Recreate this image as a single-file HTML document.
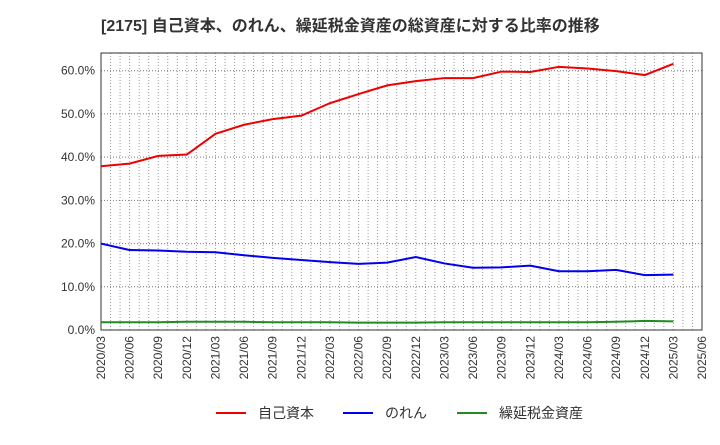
<!DOCTYPE html>
<html><head><meta charset="utf-8"><style>
body{margin:0;background:#fff;}
svg text{font-family:"Liberation Sans","Noto Sans CJK JP",sans-serif;}
</style></head><body>
<svg id="c" width="720" height="440" xmlns="http://www.w3.org/2000/svg">
<text x="101" y="31" font-size="16" font-weight="bold" fill="#333">[2175]  自己資本、のれん、繰延税金資産の総資産に対する比率の推移</text>
<g id="grid"></g>
<g id="axes"></g>
<g id="series"></g>
<g id="legend"></g>
</svg>
<script>
const categories=["2020/03","2020/06","2020/09","2020/12","2021/03","2021/06","2021/09","2021/12","2022/03","2022/06","2022/09","2022/12","2023/03","2023/06","2023/09","2023/12","2024/03","2024/06","2024/09","2024/12","2025/03","2025/06"];
const equityRatio=[37.9,38.5,40.3,40.6,45.4,47.5,48.8,49.6,52.5,54.6,56.6,57.6,58.3,58.3,59.8,59.7,60.9,60.5,59.9,59.0,61.6];
const goodwillRatio=[20.0,18.5,18.4,18.1,18.0,17.3,16.7,16.2,15.7,15.3,15.6,16.9,15.4,14.4,14.5,14.9,13.6,13.6,13.9,12.7,12.8];
const dtaRatio=[1.8,1.8,1.8,1.9,1.9,1.9,1.8,1.8,1.8,1.7,1.7,1.7,1.8,1.8,1.8,1.8,1.8,1.8,1.9,2.1,2.0];
const yTicks=[0,10,20,30,40,50,60];
const seriesNames=["自己資本","のれん","繰延税金資産"];
const seriesColors=["#e00","#00e","#228b22"];
const L=101,R=702,T=53,B=330,NS="http://www.w3.org/2000/svg";
const x=i=>L+(R-L)*i/(categories.length-1);
const y=v=>B-(B-T)*v/64.1;
function mk(tag,attrs,parent){const e=document.createElementNS(NS,tag);for(const k in attrs)e.setAttribute(k,attrs[k]);parent.appendChild(e);return e;}
const grid=document.getElementById('grid'),axes=document.getElementById('axes'),ser=document.getElementById('series'),leg=document.getElementById('legend');
for(let m=1;m<(categories.length-1)*3;m++){const xx=L+(R-L)*m/((categories.length-1)*3);
const g=mk('line',{x1:xx,x2:xx,y1:T,y2:B,stroke:'#999','stroke-dasharray':'1,2','stroke-width':1},grid);

}
yTicks.forEach(t=>{const yy=y(t);
const g=mk('line',{x1:L,x2:R,y1:yy,y2:yy,stroke:'#777','stroke-dasharray':'1,2','stroke-width':1},grid);


const tx=mk('text',{x:L-6,y:yy+4,'font-size':12,'text-anchor':'end',fill:'#333'},axes);tx.textContent=t.toFixed(1)+'%';

});
const fr=mk('rect',{x:L,y:T,width:R-L,height:B-T,fill:'none',stroke:'#333','stroke-width':1},axes);


categories.forEach((c,i)=>{const xx=x(i);
const tx=mk('text',{x:xx+4,y:B+6,'font-size':12,'text-anchor':'end',fill:'#333',transform:`rotate(-90 ${xx+4} ${B+6})`},axes);tx.textContent=c;

});
[equityRatio,goodwillRatio,dtaRatio].forEach((d,s)=>{
const p=mk('polyline',{points:d.map((v,i)=>x(i)+','+y(v)).join(' '),fill:'none',stroke:seriesColors[s],'stroke-width':2},ser);

});
const lx=[216,343,457];
seriesNames.forEach((n,s)=>{
const g=mk('g',{},leg);


mk('line',{x1:lx[s],x2:lx[s]+30,y1:413,y2:413,stroke:seriesColors[s],'stroke-width':2},g);
const t=mk('text',{x:lx[s]+42,y:418,'font-size':14,fill:'#333'},g);t.textContent=n;});
</script>
</body></html>
